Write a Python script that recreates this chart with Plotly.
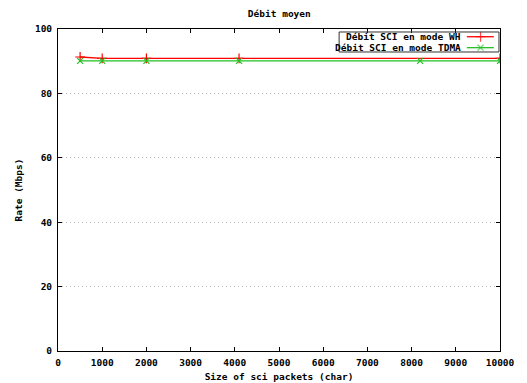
import plotly.graph_objects as go

wh_x = [500, 1000, 2000, 4096, 10000]
wh_y = [91.3, 90.9, 90.9, 90.9, 90.9]
tdma_x = [500, 1000, 2000, 4096, 8192, 10000]
tdma_y = [90.1, 90.1, 90.1, 90.1, 90.1, 90.1]
series_names = ["Débit SCI en mode WH", "Débit SCI en mode TDMA"]
x_ticks = list(range(0, 10001, 1000))
y_ticks = [0, 20, 40, 60, 80, 100]

RED = "#ff0000"
GREEN = "#22c022"
FONT = dict(family="DejaVu Sans Mono", size=9.5, color="black", weight="bold")

fig = go.Figure()
fig.add_trace(go.Scatter(x=wh_x, y=wh_y, mode="lines+markers", name=series_names[0],
                         line=dict(color=RED, width=1.3),
                         marker=dict(symbol="cross-thin-open", size=7, color=RED,
                                     line=dict(color=RED, width=1.2)),
                         showlegend=False))
fig.add_trace(go.Scatter(x=tdma_x, y=tdma_y, mode="lines+markers", name=series_names[1],
                         line=dict(color=GREEN, width=1.3),
                         marker=dict(symbol="x-thin-open", size=6, color=GREEN,
                                     line=dict(color=GREEN, width=1.2)),
                         showlegend=False))

# legend samples (overlay axis, 0..1 box coordinates)
for i, (col, sym, sz) in enumerate([(RED, "cross-thin-open", 7), (GREEN, "x-thin-open", 6)]):
    yy = 0.976 - i * 0.034
    fig.add_trace(go.Scatter(x=[0.925, 0.956, 0.986], y=[yy, yy, yy], xaxis="x2", yaxis="y2",
                             mode="lines+markers", line=dict(color=col, width=1.3),
                             marker=dict(symbol=sym, size=[0, sz, 0], color=col,
                                         line=dict(color=col, width=1.2)),
                             showlegend=False, hoverinfo="skip"))
    fig.add_annotation(x=0.916, y=yy, xref="x2", yref="y2", text=series_names[i],
                       showarrow=False, xanchor="right", yanchor="middle", font=FONT)

fig.add_shape(type="rect", xref="x2", yref="y2", x0=0.636, x1=0.9977, y0=0.9286, y1=0.9907,
              line=dict(color="#333333", width=1), fillcolor="rgba(0,0,0,0)")

fig.update_layout(
    width=527, height=383,
    margin=dict(l=58, r=27, t=29, b=32, autoexpand=False),
    paper_bgcolor="white", plot_bgcolor="white",
    font=FONT,
    title=dict(text="Débit moyen", x=0.53, xanchor="center", y=0.963, yanchor="middle",
               font=FONT, automargin=False),
    xaxis=dict(range=[0, 10000], tickvals=x_ticks, tickformat="d", ticks="inside", ticklen=4,
               tickcolor="black", showline=True, linecolor="black", linewidth=1, mirror="ticks",
               showgrid=False, zeroline=False, tickfont=FONT, automargin=False,
               ticklabelstandoff=3,
               title=dict(text="Size of sci packets (char)", font=FONT, standoff=5)),
    yaxis=dict(range=[0, 100], tickvals=y_ticks, ticks="inside", ticklen=4,
               tickcolor="black", showline=True, linecolor="black", linewidth=1, mirror="ticks",
               showgrid=True, gridcolor="#b8b8b8", griddash="1px,3px", gridwidth=1,
               zeroline=False, tickfont=FONT, automargin=False, ticklabelstandoff=3,
               title=dict(text="Rate (Mbps)", font=FONT, standoff=10)),
    xaxis2=dict(range=[0, 1], overlaying="x", visible=False, fixedrange=True),
    yaxis2=dict(range=[0, 1], overlaying="y", visible=False, fixedrange=True),
)

fig.write_html("out.html", config={"displayModeBar": False},
               post_script="document.body.style.margin='0';")
